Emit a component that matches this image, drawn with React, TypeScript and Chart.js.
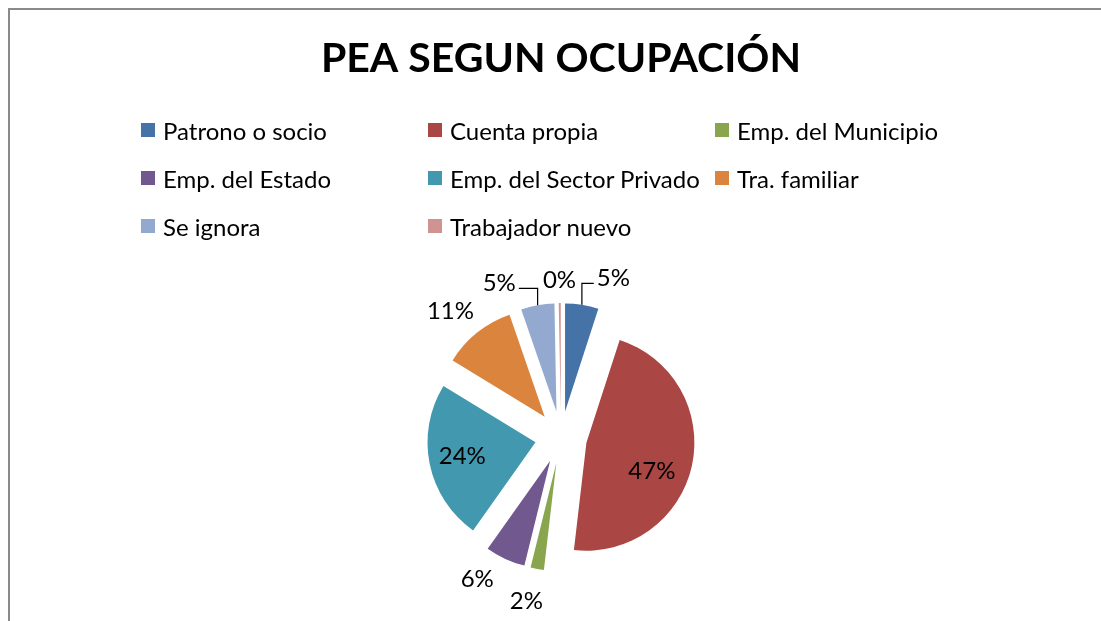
import React, { useEffect, useRef } from "react";
import { Chart, registerables } from "chart.js";

Chart.register(...registerables);

const TITLE = "PEA SEGUN OCUPACIÓN";
const categories = [
  "Patrono o socio",
  "Cuenta propia",
  "Emp. del Municipio",
  "Emp. del Estado",
  "Emp. del Sector Privado",
  "Tra. familiar",
  "Se ignora",
  "Trabajador nuevo",
];
const values = [5, 47, 2, 6, 24, 11, 5, 0.3];
const colors = ["#4572A7", "#AA4643", "#89A54E", "#71588F", "#4198AF", "#DB843D", "#93A9CF", "#D19392"];

const FONT = "Lato, 'Noto Sans', sans-serif";
const EXPLODE = 26;
const PIE_RADIUS = 108;
// label placement style: radial factor, angle nudge (deg), leader line
const labelRadial = [1.31, 0.66, 1.31, 1.29, 0.69, 1.31, 1.3, 1.21];
const labelNudge = [11, 11, 2, 7, 1, -3, -14, 0];
const labelLeader = [true, false, false, false, false, false, true, false];

const explodePlugin = {
  id: "explodePie",
  beforeDatasetDraw(chart: any, args: any) {
    const ctx = chart.ctx;
    args.meta.data.forEach((arc: any) => {
      const { startAngle, endAngle } = arc.getProps(["startAngle", "endAngle"], true);
      const mid = (startAngle + endAngle) / 2;
      ctx.save();
      ctx.translate(Math.cos(mid) * EXPLODE, Math.sin(mid) * EXPLODE);
      arc.draw(ctx);
      ctx.restore();
    });
    return false;
  },
};

const labelPlugin = {
  id: "pieLabels",
  afterDatasetsDraw(chart: any) {
    const ctx = chart.ctx;
    const meta = chart.getDatasetMeta(0);
    const data = chart.data.datasets[0].data as number[];
    const total = data.reduce((a, b) => a + b, 0);
    ctx.save();
    ctx.font = `24px ${FONT}`;
    ctx.fillStyle = "#000";
    ctx.textAlign = "center";
    ctx.textBaseline = "middle";
    meta.data.forEach((arc: any, i: number) => {
      const { x, y, startAngle, endAngle, outerRadius } = arc.getProps(
        ["x", "y", "startAngle", "endAngle", "outerRadius"],
        true
      );
      const mid = (startAngle + endAngle) / 2;
      const vx = x + Math.cos(mid) * EXPLODE;
      const vy = y + Math.sin(mid) * EXPLODE;
      const la = mid + (labelNudge[i] * Math.PI) / 180;
      const lx = vx + Math.cos(la) * outerRadius * labelRadial[i];
      const ly = vy + Math.sin(la) * outerRadius * labelRadial[i];
      const text = Math.round((data[i] / total) * 100) + "%";
      ctx.fillText(text, lx, ly);
      if (labelLeader[i]) {
        const ex = vx + Math.cos(mid) * outerRadius;
        const ey = vy + Math.sin(mid) * outerRadius;
        const halfW = ctx.measureText(text).width / 2;
        const sx = lx > ex ? lx - halfW - 3 : lx + halfW + 3;
        const sy = ly + 5;
        ctx.beginPath();
        ctx.strokeStyle = "#000";
        ctx.lineWidth = 1.2;
        ctx.moveTo(sx, sy);
        ctx.lineTo(ex, sy);
        ctx.lineTo(ex, ey);
        ctx.stroke();
      }
    });
    ctx.restore();
  },
};

export default function App() {
  const canvasRef = useRef<HTMLCanvasElement | null>(null);

  useEffect(() => {
    if (!canvasRef.current) return;
    const chart = new Chart(canvasRef.current, {
      type: "pie",
      data: {
        labels: categories,
        datasets: [
          {
            data: values,
            backgroundColor: colors,
            borderWidth: 0,
            hoverOffset: 0,
          },
        ],
      },
      options: {
        responsive: false,
        animation: false,
        radius: PIE_RADIUS,
        layout: { padding: { left: 11, right: 0, top: 0, bottom: 0 } },
        plugins: {
          legend: { display: false },
          tooltip: { enabled: false },
          title: {
            display: true,
            text: TITLE,
            color: "#000",
            font: { family: FONT, size: 41, weight: "bold", lineHeight: 1.2 },
            padding: { top: 24, bottom: 170 },
          },
        },
        events: [],
      } as any,
      plugins: [explodePlugin, labelPlugin],
    });
    return () => chart.destroy();
  }, []);

  return (
    <div
      style={{
        position: "fixed",
        left: 8,
        top: 8,
        width: 1093,
        height: 613,
        boxSizing: "border-box",
        borderTop: "2px solid #8a8a8a",
        borderLeft: "2px solid #8a8a8a",
        background: "#fff",
        overflow: "hidden",
      }}
    >
      <canvas ref={canvasRef} width={1091} height={611} style={{ position: "absolute", left: 0, top: 0 }} />
      <div
        style={{
          position: "absolute",
          left: 131,
          top: 108,
          display: "grid",
          gridTemplateColumns: "287px 287px 287px",
          gridAutoRows: "48px",
          fontFamily: FONT,
          fontSize: 24,
          color: "#000",
        }}
      >
        {categories.map((c, i) => (
          <div key={c} style={{ display: "flex", alignItems: "center", height: 24, whiteSpace: "nowrap" }}>
            <span style={{ width: 14, height: 14, background: colors[i], marginRight: 8, flex: "none" }} />
            <span>{c}</span>
          </div>
        ))}
      </div>
    </div>
  );
}
